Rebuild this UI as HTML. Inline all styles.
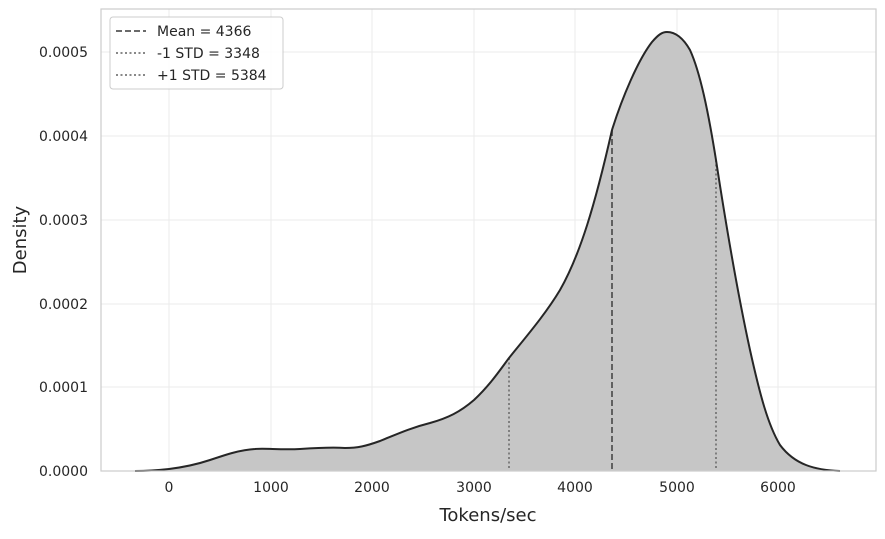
<!DOCTYPE html>
<html><head><meta charset="utf-8"><style>
body{margin:0;background:#fff}
svg text{font-family:"DejaVu Sans","Liberation Sans",sans-serif;fill:#262626}
</style></head><body>
<svg width="885" height="534" viewBox="0 0 885 534" xmlns="http://www.w3.org/2000/svg">
<rect x="0" y="0" width="885" height="534" fill="#fff"/>
<g stroke="#ebebeb" stroke-width="1">
<line x1="169" y1="9" x2="169" y2="471"/><line x1="271" y1="9" x2="271" y2="471"/>
<line x1="372" y1="9" x2="372" y2="471"/><line x1="474" y1="9" x2="474" y2="471"/>
<line x1="575" y1="9" x2="575" y2="471"/><line x1="677" y1="9" x2="677" y2="471"/>
<line x1="778" y1="9" x2="778" y2="471"/>
<line x1="101" y1="387" x2="876" y2="387"/><line x1="101" y1="304" x2="876" y2="304"/>
<line x1="101" y1="220" x2="876" y2="220"/><line x1="101" y1="136" x2="876" y2="136"/>
<line x1="101" y1="52" x2="876" y2="52"/>
</g>
<path d="M135,471 C150,471 160,470 169,469 C185,467 198,464 210,460 C228,454 240,450 255,449 C265,448 280,450 300,449 C315,448 330,447 345,448 C358,448 366,446 380,441 C395,435 410,428 430,423 C448,418 460,412 474,400 C490,385 500,370 509,358 C525,338 545,315 560,290 C580,255 595,205 612,130 C622,98 638,60 652,42 C658,35 662,32 667,32 C674,32 682,36 690,50 C700,72 708,110 716,160 C726,225 738,295 750,350 C760,395 768,425 780,445 C795,465 815,470 840,471 Z" fill="#c6c6c6"/>
<line x1="612" y1="130" x2="612" y2="471" stroke="#555" stroke-width="1.8" stroke-dasharray="6,3"/>
<line x1="509" y1="358" x2="509" y2="471" stroke="#777" stroke-width="1.8" stroke-dasharray="2,2.5"/>
<line x1="716" y1="160" x2="716" y2="471" stroke="#777" stroke-width="1.8" stroke-dasharray="2,2.5"/>
<path d="M135,471 C150,471 160,470 169,469 C185,467 198,464 210,460 C228,454 240,450 255,449 C265,448 280,450 300,449 C315,448 330,447 345,448 C358,448 366,446 380,441 C395,435 410,428 430,423 C448,418 460,412 474,400 C490,385 500,370 509,358 C525,338 545,315 560,290 C580,255 595,205 612,130 C622,98 638,60 652,42 C658,35 662,32 667,32 C674,32 682,36 690,50 C700,72 708,110 716,160 C726,225 738,295 750,350 C760,395 768,425 780,445 C795,465 815,470 840,471" fill="none" stroke="#262626" stroke-width="2"/>
<rect x="101" y="9" width="775" height="462" fill="none" stroke="#ccc" stroke-width="1.2"/>
<g font-size="14" text-anchor="middle">
<text x="169" y="492">0</text><text x="271" y="492">1000</text><text x="372" y="492">2000</text>
<text x="474" y="492">3000</text><text x="575" y="492">4000</text><text x="677" y="492">5000</text>
<text x="778" y="492">6000</text>
</g>
<g font-size="14" text-anchor="end">
<text x="88" y="476">0.0000</text><text x="88" y="392">0.0001</text><text x="88" y="309">0.0002</text>
<text x="88" y="225">0.0003</text><text x="88" y="141">0.0004</text><text x="88" y="57">0.0005</text>
</g>
<text x="488" y="521" font-size="18" text-anchor="middle">Tokens/sec</text>
<text transform="translate(26,240) rotate(-90)" font-size="18" text-anchor="middle">Density</text>
<rect x="110" y="17" width="173" height="72" rx="3" fill="#fff" fill-opacity="0.85" stroke="#ccc"/>
<line x1="116" y1="31" x2="146" y2="31" stroke="#555" stroke-width="1.8" stroke-dasharray="6,3"/>
<line x1="116" y1="53" x2="146" y2="53" stroke="#777" stroke-width="1.8" stroke-dasharray="2,2.5"/>
<line x1="116" y1="75" x2="146" y2="75" stroke="#777" stroke-width="1.8" stroke-dasharray="2,2.5"/>
<g font-size="14"><text x="157" y="36">Mean = 4366</text><text x="157" y="58">-1 STD = 3348</text><text x="157" y="80">+1 STD = 5384</text></g>
</svg>
</body></html>
